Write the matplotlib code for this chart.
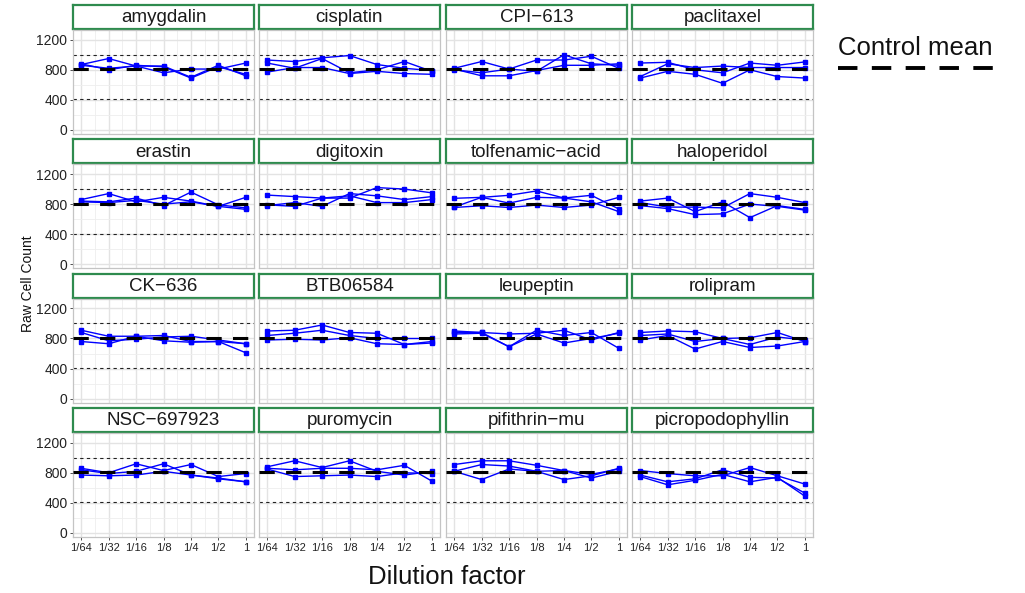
import matplotlib
matplotlib.use("Agg")
import matplotlib.pyplot as plt
from matplotlib.lines import Line2D
from matplotlib.ticker import NullFormatter, FixedLocator
import numpy as np

# ---------------- data ----------------
dilution = [1/64, 1/32, 1/16, 1/8, 1/4, 1/2, 1]
dilution_labels = ["1/64", "1/32", "1/16", "1/8", "1/4", "1/2", "1"]
drugs = ["amygdalin", "cisplatin", "CPI\u2212613", "paclitaxel",
         "erastin", "digitoxin", "tolfenamic\u2212acid", "haloperidol",
         "CK\u2212636", "BTB06584", "leupeptin", "rolipram",
         "NSC\u2212697923", "puromycin", "pifithrin\u2212mu", "picropodophyllin"]

amygdalin = [[870, 950, 850, 850, 700, 860, 720],
             [880, 800, 860, 840, 690, 840, 740],
             [860, 820, 850, 760, 810, 810, 890]]
cisplatin = [[930, 910, 960, 990, 870, 820, 790],
             [890, 820, 950, 760, 800, 910, 780],
             [770, 830, 830, 750, 780, 750, 740]]
cpi613 = [[820, 910, 810, 780, 1000, 880, 860],
          [800, 760, 810, 930, 930, 980, 820],
          [810, 720, 720, 790, 860, 860, 880]]
paclitaxel = [[890, 900, 800, 760, 890, 860, 905],
              [710, 880, 830, 850, 830, 830, 830],
              [690, 780, 740, 620, 800, 710, 690]]
erastin = [[860, 940, 830, 890, 840, 770, 890],
           [840, 830, 880, 780, 960, 790, 750],
           [830, 820, 850, 800, 830, 770, 730]]
digitoxin = [[920, 900, 880, 880, 1020, 1000, 950],
             [780, 820, 770, 940, 910, 860, 900],
             [790, 770, 880, 910, 820, 820, 860]]
tolfenamic = [[877, 890, 917, 975, 881, 830, 700],
              [760, 890, 813, 890, 881, 917, 735],
              [755, 778, 755, 787, 755, 787, 890]]
haloperidol = [[840, 880, 700, 830, 620, 780, 730],
               [820, 760, 760, 750, 940, 890, 820],
               [780, 740, 660, 670, 800, 770, 720]]
ck636 = [[910, 830, 830, 840, 760, 760, 610],
         [880, 770, 790, 820, 830, 780, 730],
         [760, 730, 830, 770, 750, 760, 730]]
btb06584 = [[900, 910, 980, 880, 870, 720, 760],
            [840, 870, 910, 840, 800, 800, 800],
            [780, 790, 780, 810, 730, 720, 740]]
leupeptin = [[900, 880, 860, 870, 910, 780, 880],
             [880, 880, 690, 910, 840, 880, 670],
             [860, 870, 690, 860, 740, 800, 870]]
rolipram = [[880, 900, 890, 800, 810, 880, 760],
            [840, 860, 760, 800, 720, 820, 780],
            [780, 840, 660, 760, 680, 700, 760]]
nsc697923 = [[860, 800, 920, 830, 910, 750, 790],
             [840, 790, 820, 920, 770, 730, 680],
             [770, 760, 770, 820, 770, 720, 680]]
puromycin = [[880, 960, 870, 960, 820, 770, 820],
             [860, 840, 860, 860, 840, 900, 690],
             [850, 750, 760, 770, 750, 800, 790]]
pifithrin = [[910, 960, 960, 900, 830, 780, 850],
             [820, 910, 890, 820, 830, 730, 820],
             [820, 710, 850, 820, 710, 760, 860]]
picropodophyllin = [[830, 790, 760, 760, 870, 760, 650],
                    [770, 680, 720, 840, 740, 730, 530],
                    [750, 640, 700, 780, 680, 740, 490]]

counts = [amygdalin, cisplatin, cpi613, paclitaxel,
          erastin, digitoxin, tolfenamic, haloperidol,
          ck636, btb06584, leupeptin, rolipram,
          nsc697923, puromycin, pifithrin, picropodophyllin]

control_mean = 805
upper_ref = 1000
lower_ref = 405
y_ticks = [0, 400, 800, 1200]

# ---------------- layout ----------------
W, H = 1025, 593
FONT = "Liberation Sans"
plt.rcParams["font.family"] = [FONT, "DejaVu Sans"]
fig = plt.figure(figsize=(W / 100, H / 100), dpi=100)

col_left = [73, 259, 446, 632]
panel_w = 181
row_top = [5, 139.3, 273.7, 408]
strip_h = 24
plot_off = 25
plot_h = 104

GREEN = "#2e8b4e"
BLUE = "#0000ff"
GRID = "#e3e3e3"
TXT = "#222222"


def fig_rect(x, y, w, h):
    return [x / W, 1 - (y + h) / H, w / W, h / H]


x_lo, x_hi = 2 ** -6.3, 2 ** 0.3
minor_x = [2 ** (k + 0.5) for k in range(-6, 0)]
minor_y = [200, 600, 1000]

for i, (drug, reps) in enumerate(zip(drugs, counts)):
    r, c = divmod(i, 4)
    # strip
    sax = fig.add_axes(fig_rect(col_left[c], row_top[r], panel_w, strip_h))
    sax.set_xticks([]); sax.set_yticks([])
    sax.set_facecolor("white")
    for sp in sax.spines.values():
        sp.set_color(GREEN); sp.set_linewidth(1.6)
    sax.text(0.5, 0.47, drug, ha="center", va="center", fontsize=13.5,
             color="#1a1a1a", transform=sax.transAxes)

    ax = fig.add_axes(fig_rect(col_left[c], row_top[r] + plot_off, panel_w, plot_h))
    ax.set_xscale("log", base=2)
    ax.set_xlim(x_lo, x_hi)
    ax.set_ylim(-55, 1330)
    ax.xaxis.set_major_locator(FixedLocator(dilution))
    ax.xaxis.set_minor_locator(FixedLocator(minor_x))
    ax.xaxis.set_minor_formatter(NullFormatter())
    ax.set_yticks(y_ticks)
    ax.set_yticks(minor_y, minor=True)
    ax.yaxis.set_minor_formatter(NullFormatter())
    ax.grid(True, which="major", color=GRID, lw=1.0, zorder=0)
    ax.grid(True, which="minor", color="#eeeeee", lw=0.6, zorder=0)
    ax.set_axisbelow(True)
    for sp in ax.spines.values():
        sp.set_color("#c4c4c4"); sp.set_linewidth(0.9)
    ax.tick_params(which="minor", length=0)
    ax.tick_params(which="major", length=2.5, width=0.6, color="#333333",
                   labelcolor=TXT)

    if c == 0:
        ax.set_yticklabels([str(v) for v in y_ticks], fontsize=10)
        ax.tick_params(axis="y", pad=1.5)
    else:
        ax.tick_params(axis="y", length=0, labelleft=False)
    if r == 3:
        ax.set_xticklabels(dilution_labels, fontsize=8)
        ax.tick_params(axis="x", pad=2)
    else:
        ax.set_xticklabels([])
        ax.tick_params(axis="x", length=0, labelbottom=False)

    for rep in reps:
        ax.plot(dilution, rep, color=BLUE, lw=1.0, marker="s", ms=3.2,
                mec=BLUE, mfc=BLUE, zorder=3)

    ax.axhline(upper_ref, color="#222222", lw=0.8, ls=(0, (3, 3)), zorder=2)
    ax.axhline(lower_ref, color="#222222", lw=0.8, ls=(0, (3, 3)), zorder=2)
    ax.axhline(control_mean, color="black", lw=2.2, ls=(0, (5, 3.7)), zorder=4)

# axis titles
fig.text(28 / W, 1 - 284 / H, "Raw Cell Count", rotation=90, ha="center",
         va="center", fontsize=10, color="#111111")
fig.text(447 / W, 1 - 577 / H, "Dilution factor", ha="center", va="center",
         fontsize=18.5, color="#111111")

# legend
fig.text(838 / W, 1 - 48 / H, "Control mean", ha="left", va="center",
         fontsize=18.5, color="#111111")
fig.add_artist(Line2D([838 / W, 993 / W], [1 - 68 / H, 1 - 68 / H],
                      color="black", lw=2.8, ls=(0, (5, 3.7)),
                      transform=fig.transFigure))

fig.savefig("out.png", dpi=100)
